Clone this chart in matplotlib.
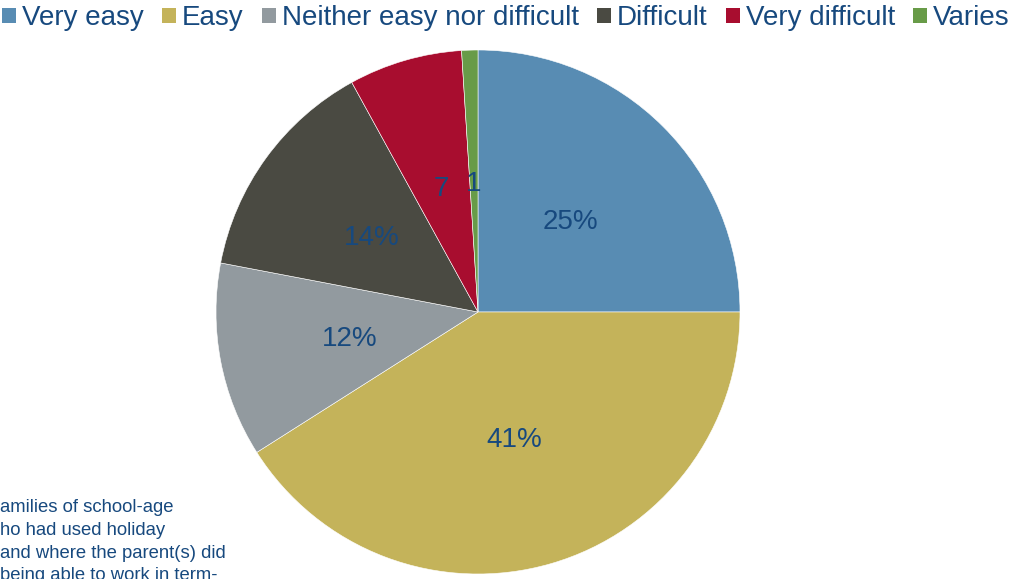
import numpy as np
import matplotlib.pyplot as plt
from matplotlib.patches import Patch

plt.rcParams['font.family'] = ['Liberation Sans', 'DejaVu Sans']

categories = ['Very easy', 'Easy', 'Neither easy nor difficult', 'Difficult', 'Very difficult', 'Varies']
shares = [25, 41, 12, 14, 7, 1]
# the two small slices only have room for the number
slice_labels = ['25%', '41%', '12%', '14%', '7', '1']
colors = ['#588cb3', '#c4b35a', '#929a9f', '#4a4a42', '#a80d2f', '#689b48']
note_lines = ['amilies of school-age', 'ho had used holiday',
              'and where the parent(s) did', 'being able to work in term-']

text_color = '#17497e'
W, H = 1011, 579

fig = plt.figure(figsize=(W / 100, H / 100), dpi=100)
cx, cy, r = 478, H - 312, 262
ax = fig.add_axes([(cx - r) / W, (cy - r) / H, 2 * r / W, 2 * r / H])

wedges, _ = ax.pie(shares, colors=colors, startangle=90, counterclock=False,
                   radius=1, wedgeprops=dict(edgecolor='white', linewidth=0.4))
# labels at half the radius, in the middle of each slice
for w, lab in zip(wedges, slice_labels):
    mid = np.deg2rad((w.theta1 + w.theta2) / 2)
    ax.text(0.5 * np.cos(mid), 0.5 * np.sin(mid) - 0.01, lab, ha='center', va='center',
            fontsize=20, color=text_color)
ax.set_xlim(-1, 1)
ax.set_ylim(-1, 1)
ax.set_aspect('equal')
ax.axis('off')

handles = [Patch(facecolor=c, edgecolor='none') for c in colors]
leg = fig.legend(handles, categories, loc='upper left', bbox_to_anchor=(0.001, 1 - 4 / H),
                 ncol=6, frameon=False, fontsize=20, handlelength=0.5, handleheight=0.5,
                 handletextpad=0.22, columnspacing=0.65, borderpad=0.05, borderaxespad=0)
for t in leg.get_texts():
    t.set_color(text_color)

baselines = [512, 535, 558, 580]
for line, yb in zip(note_lines, baselines):
    fig.text(0.0, 1 - yb / H, line, ha='left', va='baseline', fontsize=13.3, color=text_color)

fig.savefig('out.png', dpi=100)
